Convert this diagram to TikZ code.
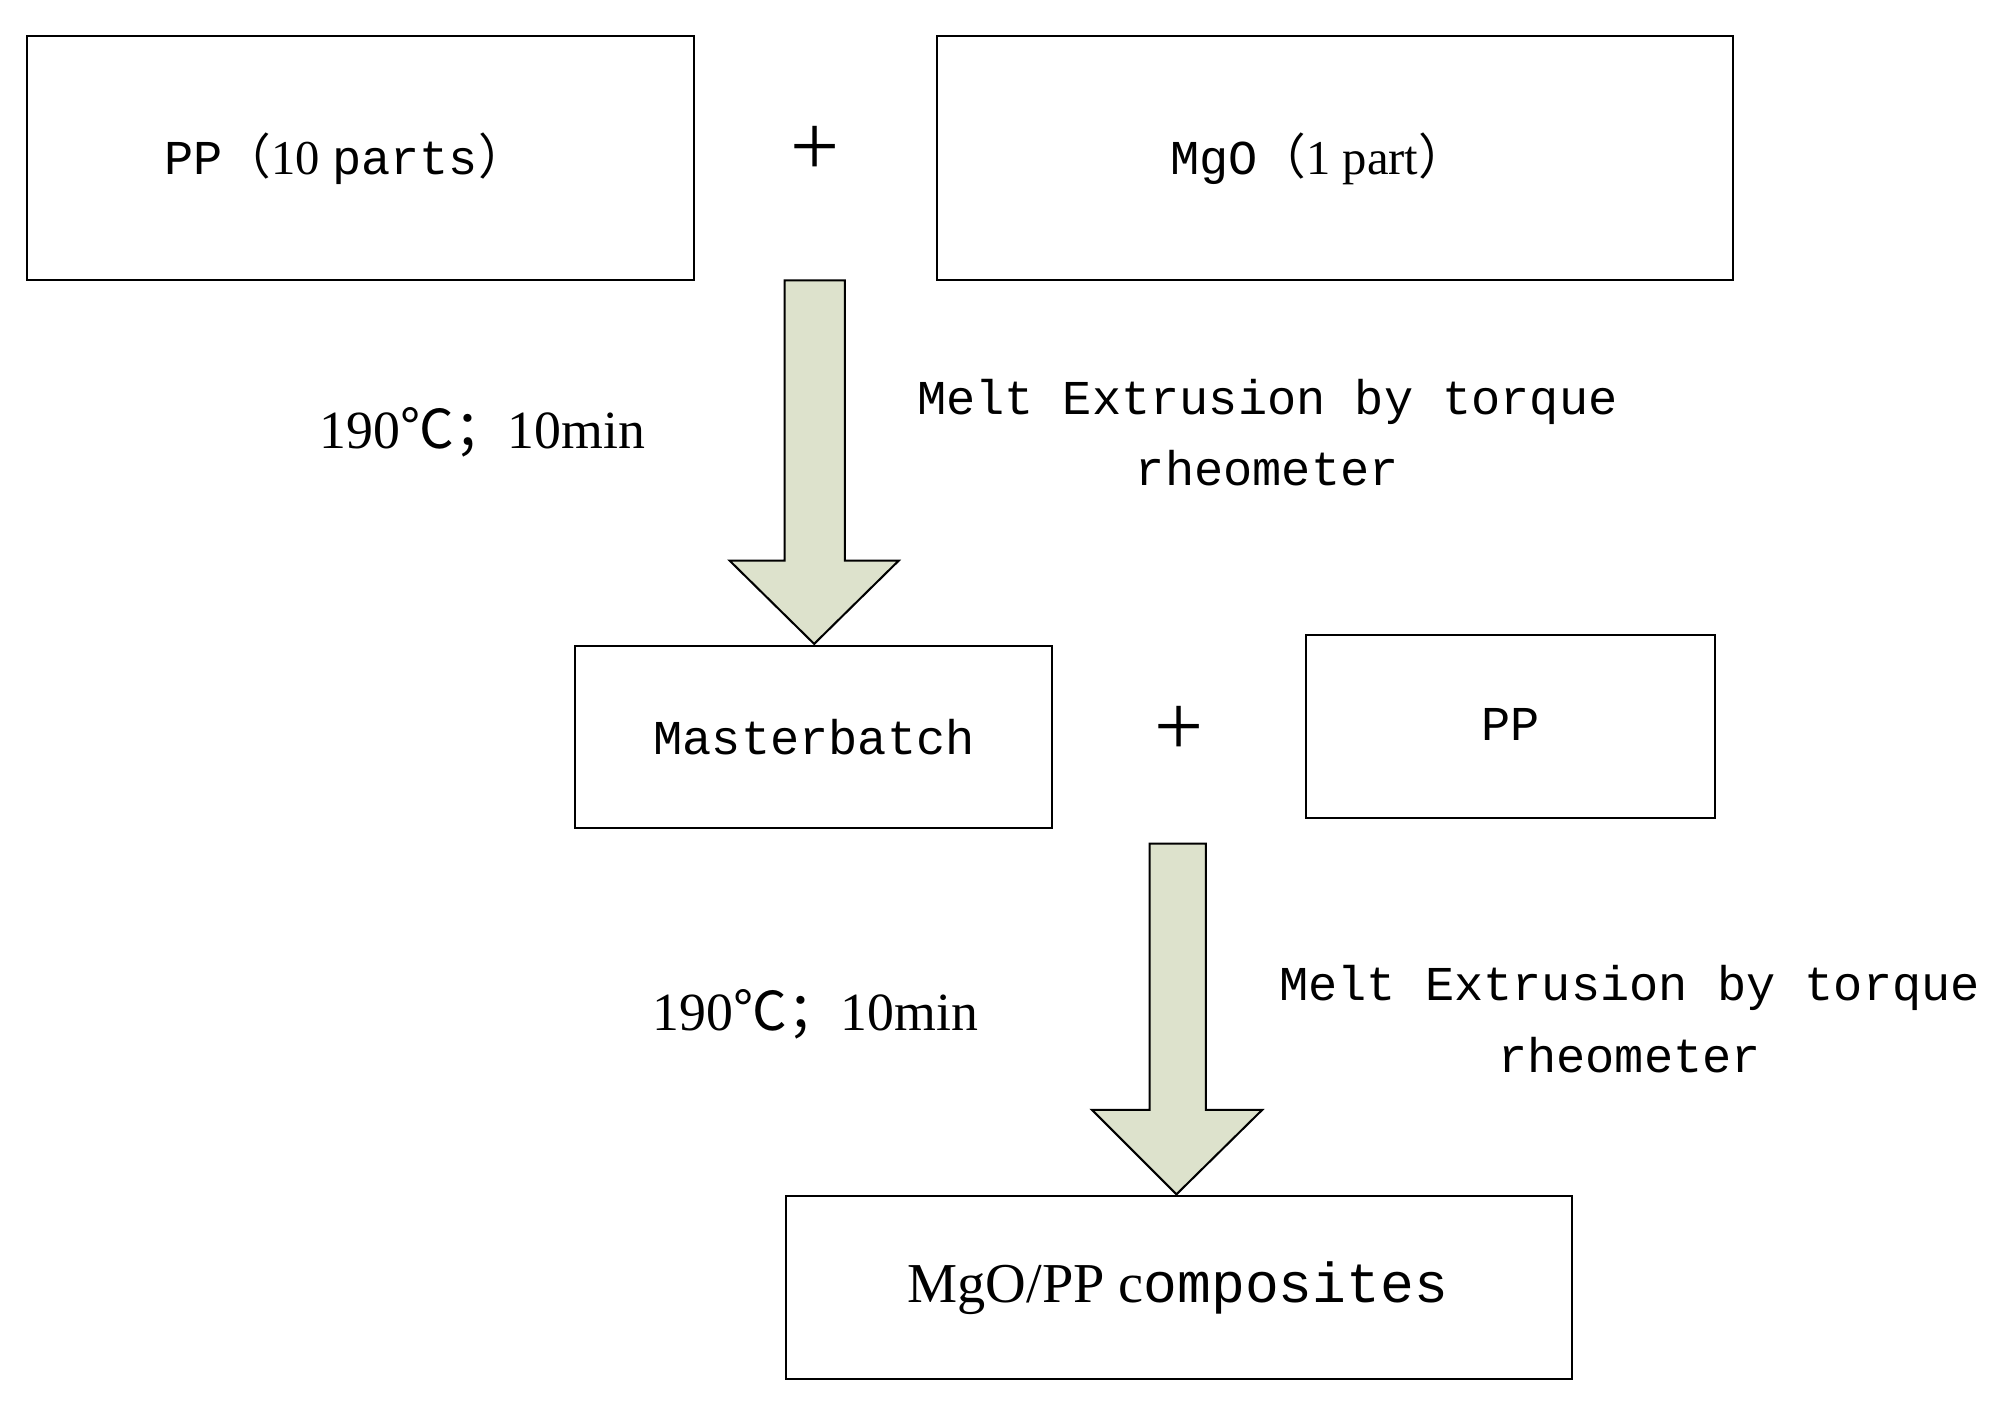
\documentclass[tikz,border=0pt]{standalone}
\usepackage{fontspec}
\setmainfont{Liberation Serif}
\newfontfamily\mono{Liberation Mono}
\newfontfamily\cjk{Noto Sans CJK SC}
\begin{document}
\begin{tikzpicture}[x=0.5pt,y=-0.5pt,
  box/.style={draw,line width=0.8pt,inner sep=0},
  lab/.style={font=\mono\fontsize{19}{28}\selectfont,align=center},
  tmp/.style={font=\fontsize{21}{24}\selectfont},
  arr/.style={draw,line width=0.8pt,fill=arrfill}]
\definecolor{arrfill}{HTML}{DDE2CC}
\useasboundingbox (0,0) rectangle (1560,1097);
\draw[box] (21,28) rectangle (542,219) node[midway] (a) {};
\node[lab] at (270,124) {PP{\cjk （}\fontspec{Liberation Serif}10 {\mono parts}{\cjk ）}};
\draw[box] (732,28) rectangle (1354,219) node[midway] (b) {};
\node[lab] at (1030,124) {MgO{\cjk （}\fontspec{Liberation Serif}1 part{\cjk ）}};
\node[font=\fontsize{34}{34}\selectfont] (p1) at (637,118) {+};
\draw[arr] (613,219) -- (660,219) -- (660,438) -- (702,438) -- (636,503) -- (570,438) -- (613,438) -- cycle;
\node[tmp] (t1) at (377,338) {190{\cjk ℃；}10min};
\node[lab] (m1) at (990,338) {Melt Extrusion by torque\\rheometer};
\draw[box] (449,505) rectangle (822,647);
\node[lab] (mb) at (636,576) {Masterbatch};
\node[font=\fontsize{34}{34}\selectfont] (p2) at (921,571) {+};
\draw[box] (1020,496) rectangle (1340,639);
\node[lab] (pp) at (1180,566) {PP};
\draw[arr] (898,659) -- (942,659) -- (942,867) -- (986,867) -- (919,933) -- (853,867) -- (898,867) -- cycle;
\node[tmp] (t2) at (637,792) {190{\cjk ℃；}10min};
\node[lab] (m2) at (1273,796) {Melt Extrusion by torque\\rheometer};
\draw[box] (614,934) rectangle (1228,1077);
\node[lab] (c) at (920,1006) {\fontspec{Liberation Serif}\fontsize{22}{24}\selectfont MgO/PP c{\mono omposites}};
\end{tikzpicture}
\end{document}
